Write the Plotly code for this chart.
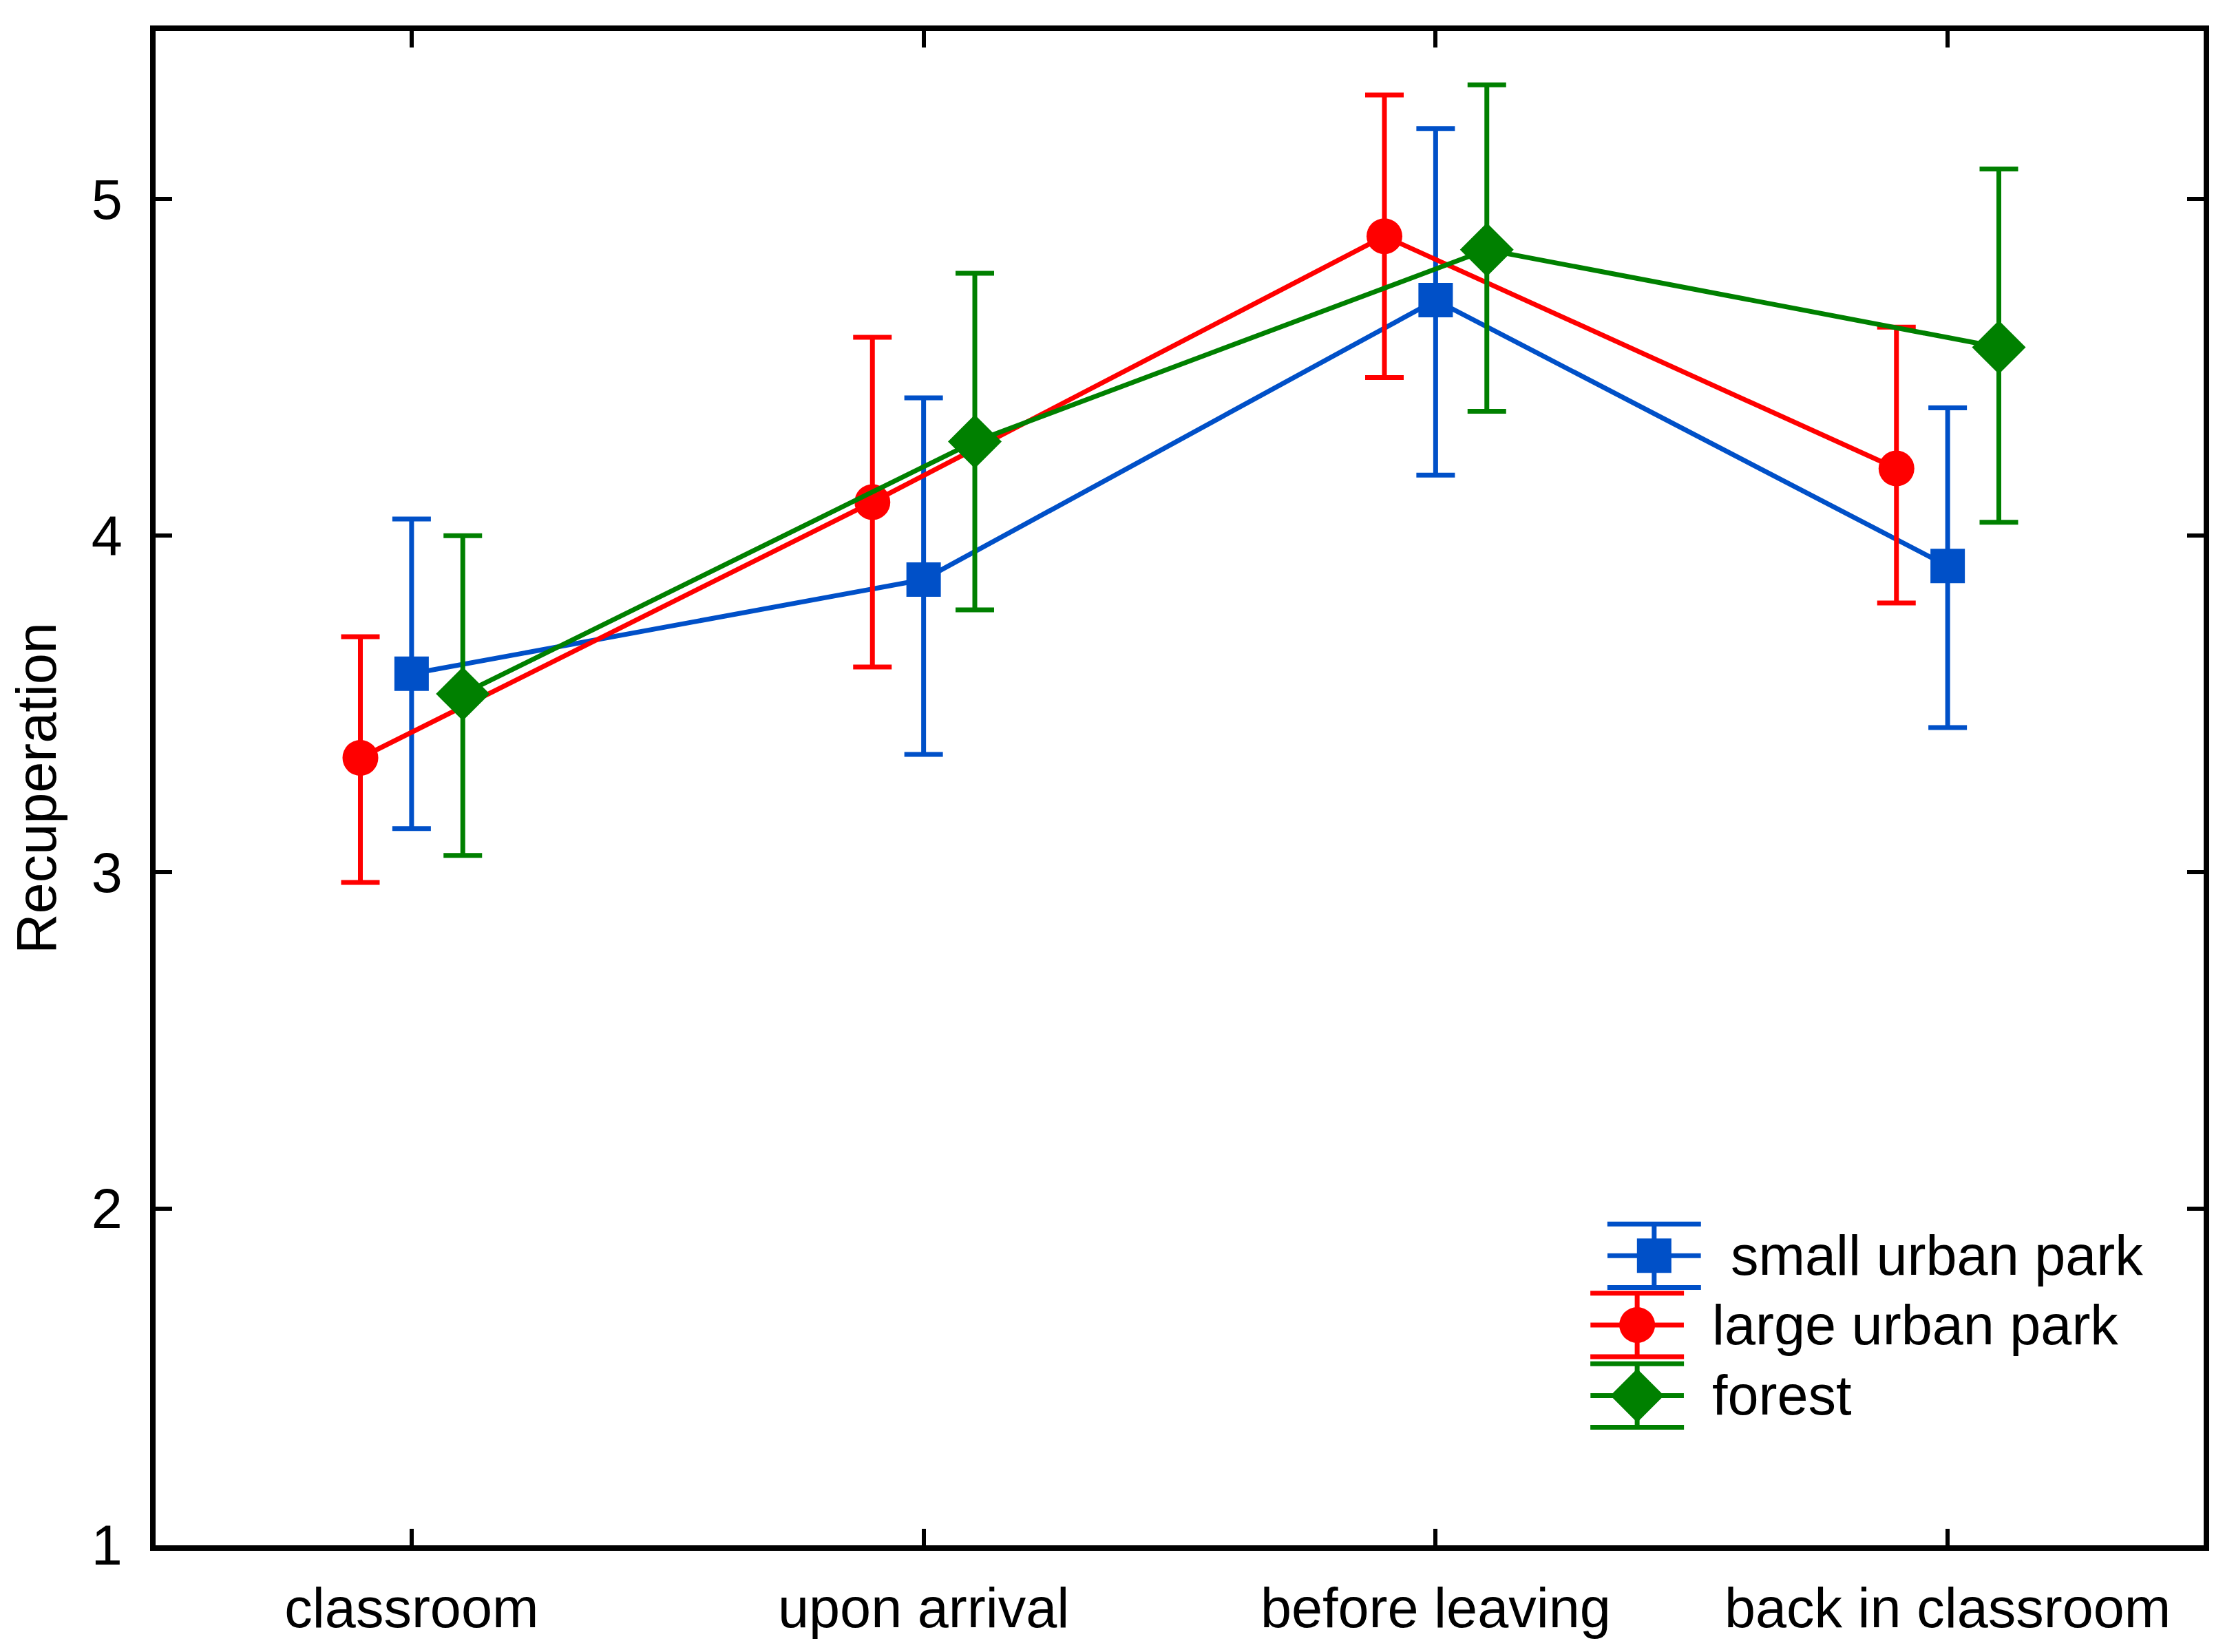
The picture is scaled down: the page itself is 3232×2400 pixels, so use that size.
import plotly.graph_objects as go

# measurement points
stages = ['classroom', 'upon arrival', 'before leaving', 'back in classroom']

# group means and error-bar ends
small_mean = [3.59, 3.87, 4.70, 3.91]
small_hi = [4.05, 4.41, 5.21, 4.38]
small_lo = [3.13, 3.35, 4.18, 3.43]

large_mean = [3.34, 4.10, 4.89, 4.20]
large_hi = [3.70, 4.59, 5.31, 4.62]
large_lo = [2.97, 3.61, 4.47, 3.80]

forest_mean = [3.53, 4.28, 4.85, 4.56]
forest_hi = [4.00, 4.78, 5.34, 5.09]
forest_lo = [3.05, 3.78, 4.37, 4.04]

FONT = 'Liberation Sans, Arial, sans-serif'

groups = [
    # name, mean, hi, lo, colour, symbol, marker size, x shift
    ('small urban park', small_mean, small_hi, small_lo, '#0050C8', 'square', 50, 0.0),
    ('large urban park', large_mean, large_hi, large_lo, '#FF0000', 'circle', 52, -0.1),
    ('forest', forest_mean, forest_hi, forest_lo, '#008000', 'diamond', 60, 0.1),
]

fig = go.Figure()
for name, mean, hi, lo, color, symbol, size, shift in groups:
    fig.add_trace(go.Scatter(
        x=[i + shift for i in range(len(stages))], y=mean,
        name=name, mode='lines+markers', showlegend=False,
        line=dict(color=color, width=7),
        marker=dict(color=color, symbol=symbol, size=size),
        error_y=dict(
            type='data', symmetric=False,
            array=[h - m for h, m in zip(hi, mean)],
            arrayminus=[m - l for m, l in zip(mean, lo)],
            color=color, thickness=7, width=28),
        xaxis='x', yaxis='y',
    ))

# hand-made legend (keys look like the error-bar glyphs of the original),
# drawn on an invisible 0..1 overlay of the plot area
key_x = [0.7317, 0.7234, 0.7234]
key_y = [0.1912, 0.1455, 0.0989]
text_x = [0.7683, 0.7593, 0.7593]
for (name, _, _, _, color, symbol, size, _), kx, ky, tx in zip(groups, key_x, key_y, text_x):
    fig.add_trace(go.Scatter(
        x=[kx], y=[ky], mode='markers', showlegend=False, hoverinfo='skip',
        marker=dict(color=color, symbol=symbol, size=size),
        error_x=dict(type='constant', value=0.0228, color=color, thickness=7, width=0),
        error_y=dict(type='constant', value=0.0210, color=color, thickness=7, width=68),
        xaxis='x2', yaxis='y2',
    ))
    fig.add_annotation(
        x=tx, y=ky, xref='x2', yref='y2', text=name, showarrow=False,
        xanchor='left', yanchor='middle',
        font=dict(family=FONT, size=81, color='black'),
    )

axis_style = dict(
    showline=True, linecolor='black', linewidth=8, mirror='ticks',
    ticks='inside', ticklen=24, tickwidth=6, tickcolor='black',
    showgrid=False, zeroline=False,
    tickfont=dict(family=FONT, size=81, color='black'),
)

fig.update_layout(
    width=3232, height=2400,
    margin=dict(l=218, r=39, t=37, b=163),
    paper_bgcolor='white', plot_bgcolor='white',
    font=dict(family=FONT, color='black'),
    showlegend=False,
    xaxis=dict(
        range=[-0.5, 3.5], tickvals=list(range(len(stages))), ticktext=stages,
        ticklabelstandoff=14, **axis_style),
    yaxis=dict(
        range=[1, 5.5], tickvals=[1, 2, 3, 4, 5], ticklabelstandoff=24,
        title=dict(text='Recuperation', font=dict(family=FONT, size=81, color='black'), standoff=32),
        **axis_style),
    xaxis2=dict(range=[0, 1], overlaying='x', anchor='y2', visible=False),
    yaxis2=dict(range=[0, 1], overlaying='y', anchor='x2', visible=False),
)

fig.write_html('out.html')
